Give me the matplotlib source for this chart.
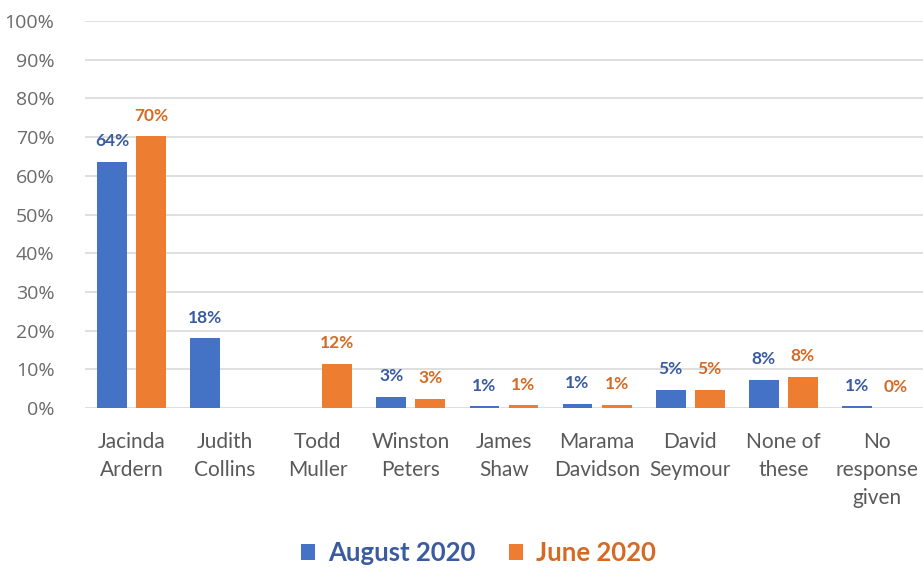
import matplotlib.pyplot as plt
import numpy as np

# Preferred PM poll
categories = ["Jacinda\nArdern", "Judith\nCollins", "Todd\nMuller", "Winston\nPeters",
              "James\nShaw", "Marama\nDavidson", "David\nSeymour", "None of\nthese",
              "No\nresponse\ngiven"]
august = [63.5, 18, np.nan, 2.8, 0.4, 1.0, 4.7, 7.3, 0.4]
june = [70.2, np.nan, 11.4, 2.3, 0.7, 0.9, 4.7, 8.0, 0.0]
august_labels = ["64%", "18%", "", "3%", "1%", "1%", "5%", "8%", "1%"]
june_labels = ["70%", "", "12%", "3%", "1%", "1%", "5%", "8%", "0%"]

blue = "#4472C4"
orange = "#ED7D31"

fig = plt.figure(figsize=(9.23, 5.72), dpi=100)
ax = fig.add_axes([0.092, 0.2867, 0.908, 0.6766])

x = np.arange(len(categories))
w = 0.32
off = 0.21
ax.bar(x - off, august, w, color=blue, label="August 2020", zorder=3)
ax.bar(x + off, june, w, color=orange, label="June 2020", zorder=3)

# Data labels
for i in range(len(categories)):
    if august_labels[i]:
        ax.text(x[i] - off, august[i] + 3.3, august_labels[i], ha="center", va="bottom",
                fontsize=12.5, fontweight="bold", color="#3A5BA0", family="Lato")
    if june_labels[i]:
        ax.text(x[i] + off, june[i] + 3.3, june_labels[i], ha="center", va="bottom",
                fontsize=12.5, fontweight="bold", color="#D46A24", family="Lato")

ax.set_xlim(-0.5, len(categories) - 0.5)
ax.set_ylim(0, 100)
ax.set_yticks(np.arange(0, 101, 10))
ax.set_yticklabels([f"{v}%" for v in range(0, 101, 10)], family="Open Sans",
                   fontsize=14, color="#6A6A6A")
ax.set_xticks(x)
ax.set_xticklabels(categories, family="Lato", fontsize=15,
                   color="#595959", linespacing=1.5, va="top")
ax.tick_params(axis="both", length=0)
ax.tick_params(axis="x", pad=17)
ax.tick_params(axis="y", pad=22)
ax.grid(axis="y", color="#D9D9D9", linewidth=1.2, zorder=0)
for s in ax.spines.values():
    s.set_visible(False)

leg = fig.legend(loc="center", bbox_to_anchor=(0.518, 0.033), ncol=2, frameon=False,
                 handlelength=0.55, handleheight=0.55, handletextpad=0.5, columnspacing=1.3,
                 prop={"family": "Lato", "weight": "bold", "size": 18.5})
leg.get_texts()[0].set_color("#3A5BA0")
leg.get_texts()[1].set_color("#D46A24")

fig.savefig("out.png", dpi=100)
